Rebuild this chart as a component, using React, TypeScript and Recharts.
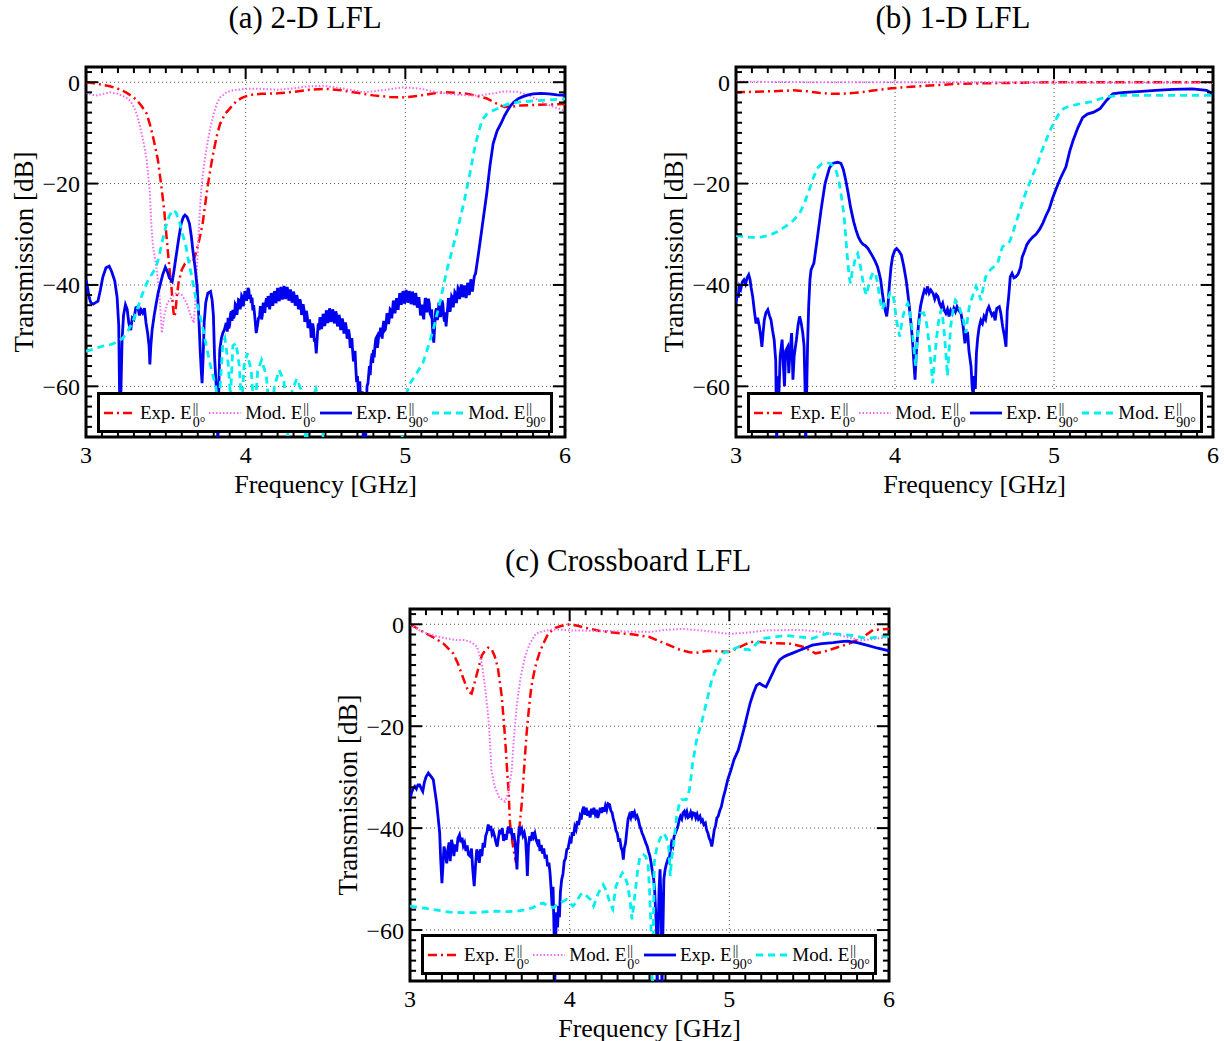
import React from "react";
import {
  LineChart,
  Line,
  XAxis,
  YAxis,
  ReferenceLine,
  ReferenceArea,
  Legend,
} from "recharts";

type Pt = [number, number];

const FONT = "'Liberation Serif', 'Times New Roman', serif";
const X_MAJOR = [3, 4, 5, 6];
const Y_MAJOR = [0, -20, -40, -60];
const X_GRID = [4, 5];
const X_MINOR = Array.from({ length: 31 }, (_, i) => Math.round((3 + i * 0.1) * 10) / 10);
const Y_MINOR = Array.from({ length: 37 }, (_, i) => -70 + i * 2);

// (a) 2-D LFL
const A_EXP0: Pt[] = [
  [3.0, 0], [3.05, -0.2], [3.1, -0.5], [3.15, -0.8], [3.2, -1.3], [3.25, -2], [3.29, -2.8],
  [3.32, -3.6], [3.35, -4.8], [3.38, -6.2], [3.4, -8.3], [3.42, -10.8], [3.435, -13], [3.45, -15.3],
  [3.47, -20], [3.49, -25.3], [3.51, -32.5], [3.525, -37.5], [3.535, -40.4], [3.545, -44.5],
  [3.552, -46.3], [3.56, -45.5], [3.568, -42.5], [3.58, -39.5], [3.6, -37], [3.62, -35.8],
  [3.645, -35.3], [3.67, -35.5], [3.69, -33.5], [3.71, -31], [3.73, -28], [3.745, -24.5],
  [3.76, -21], [3.78, -17], [3.8, -13.5], [3.82, -10.5], [3.84, -8.2], [3.87, -6.3], [3.9, -5.2],
  [3.94, -3.8], [3.97, -3.2], [4.0, -2.8], [4.05, -2.4], [4.1, -2.3], [4.2, -2.2], [4.3, -1.9],
  [4.4, -1.5], [4.5, -1.3], [4.6, -1.6], [4.7, -2.1], [4.8, -2.6], [4.9, -2.9], [5.0, -3],
  [5.1, -2.6], [5.2, -2.1], [5.26, -2], [5.33, -2.1], [5.39, -2.3], [5.45, -2.7], [5.51, -3.2],
  [5.57, -4.2], [5.62, -4.9], [5.67, -4.8], [5.72, -4.6], [5.8, -4.5], [5.9, -4.4], [6.0, -4.3],
];
const A_MOD0: Pt[] = [
  [3.0, -2], [3.04, -2.5], [3.07, -2.6], [3.11, -2.3], [3.15, -2], [3.2, -2.3], [3.25, -3],
  [3.28, -3.8], [3.3, -4.9], [3.32, -6.5], [3.34, -8.9], [3.36, -11.8], [3.38, -15.3], [3.4, -21.9],
  [3.41, -28.5], [3.42, -32.5], [3.44, -36.4], [3.46, -41.7], [3.475, -49.5], [3.49, -46],
  [3.51, -43.5], [3.54, -42.3], [3.57, -41.5], [3.6, -42], [3.63, -43.5], [3.655, -46],
  [3.675, -47.5], [3.69, -41], [3.7, -33], [3.71, -27], [3.72, -22], [3.73, -18.7], [3.745, -15],
  [3.76, -12.1], [3.78, -8.8], [3.8, -6.2], [3.82, -4.2], [3.84, -3], [3.88, -2], [3.92, -1.6],
  [4.0, -1.3], [4.1, -1.3], [4.2, -1.5], [4.3, -1.2], [4.4, -0.8], [4.49, -0.7], [4.6, -1.2],
  [4.74, -2], [4.85, -1.6], [4.99, -1], [5.1, -1.3], [5.2, -2], [5.3, -2.4], [5.4, -2.6],
  [5.47, -2.6], [5.55, -2.2], [5.62, -1.8], [5.7, -1.9], [5.76, -2.4], [5.8, -3], [5.86, -4],
  [5.93, -4.9], [6.0, -5.6],
];
const A_EXP90: Pt[] = [
  [3.0, -39], [3.01, -40.5], [3.02, -42.5], [3.03, -43.5], [3.045, -43.8], [3.06, -43.5],
  [3.075, -43.2], [3.09, -41], [3.105, -38.5], [3.125, -36.6], [3.145, -36.3], [3.16, -37.3],
  [3.18, -39.2], [3.195, -42.5], [3.205, -48], [3.212, -66], [3.218, -62], [3.226, -50.8],
  [3.235, -46], [3.247, -43.9], [3.258, -44.8], [3.268, -47.5], [3.28, -48.9], [3.29, -46.5],
  [3.3, -46.8], [3.312, -44.5], [3.324, -44.3], [3.335, -46], [3.345, -44.9], [3.355, -45.5],
  [3.366, -44.6], [3.376, -47.5], [3.386, -49.5], [3.395, -52], [3.4, -55.7], [3.406, -52],
  [3.414, -48.9], [3.427, -46], [3.44, -43.6], [3.452, -41.5], [3.462, -40.3], [3.48, -38],
  [3.497, -36.5], [3.51, -37.4], [3.522, -38.6], [3.54, -39.3], [3.552, -37], [3.564, -34.4],
  [3.58, -31], [3.596, -27.9], [3.61, -26.6], [3.62, -26.2], [3.633, -26.6], [3.648, -27.9],
  [3.66, -30.5], [3.669, -33.1], [3.683, -36.5], [3.696, -40.3], [3.706, -46], [3.715, -52.8],
  [3.722, -57], [3.727, -59.4], [3.734, -54], [3.74, -47.5], [3.75, -43.5], [3.763, -41.6],
  [3.78, -41.3], [3.79, -43], [3.798, -46], [3.805, -54.1], [3.812, -58], [3.82, -62],
  [3.826, -72], [3.832, -60], [3.838, -52.8], [3.848, -50.5], [3.857, -49.5], [3.868, -48.7],
  [3.878, -47.5], [3.885, -49.2], [3.89, -46.5], [3.895, -48.6], [3.9, -47.8], [3.905, -45.8],
  [3.91, -45.2], [3.915, -47.1], [3.92, -44.9], [3.925, -46.6], [3.93, -45.9], [3.935, -43.8],
  [3.94, -44.1], [3.945, -45.9], [3.95, -44.6], [3.955, -42.9], [3.96, -43], [3.965, -44.8],
  [3.97, -43.9], [3.975, -42.1], [3.98, -42.4], [3.985, -44.2], [3.99, -42.9], [3.995, -41.2],
  [4.0, -41.6], [4.005, -43.1], [4.01, -42.2], [4.015, -40.6], [4.02, -41], [4.025, -42.8],
  [4.03, -41.9], [4.035, -43.6], [4.04, -42.5], [4.045, -45], [4.05, -44], [4.058, -46.5],
  [4.066, -49.5], [4.074, -48], [4.08, -46.6], [4.087, -46.2], [4.092, -44.2], [4.096, -45],
  [4.1, -46.8], [4.105, -45.8], [4.11, -43.5], [4.115, -44.2], [4.12, -45.5], [4.125, -43.6],
  [4.13, -42.6], [4.135, -44.4], [4.14, -42.2], [4.145, -43], [4.15, -44.8], [4.155, -43.5],
  [4.16, -41.6], [4.165, -42.3], [4.17, -44.1], [4.175, -43], [4.18, -41.2], [4.185, -41.8],
  [4.19, -43.6], [4.195, -42.5], [4.2, -40.6], [4.205, -41.4], [4.21, -43.2], [4.215, -42.2],
  [4.22, -40.4], [4.225, -41.2], [4.23, -42.9], [4.235, -41.9], [4.24, -40.2], [4.245, -41],
  [4.25, -42.8], [4.255, -41.8], [4.26, -40.4], [4.265, -41.3], [4.27, -43.1], [4.275, -42.3],
  [4.28, -40.9], [4.285, -41.7], [4.29, -43.5], [4.296, -42.6], [4.3, -41.3], [4.306, -42.4],
  [4.31, -44.1], [4.316, -43.4], [4.32, -42], [4.326, -43], [4.33, -44.8], [4.336, -44.3],
  [4.34, -42.8], [4.346, -43.8], [4.35, -45.9], [4.356, -45.2], [4.36, -43.8], [4.366, -45],
  [4.37, -47.3], [4.376, -46.6], [4.38, -45.1], [4.386, -46.2], [4.39, -48.5], [4.396, -47.8],
  [4.4, -46.8], [4.406, -48.2], [4.41, -50.4], [4.415, -49.8], [4.42, -47.6], [4.425, -48.6],
  [4.43, -51.2], [4.435, -50.5], [4.442, -53.5], [4.45, -49.5], [4.455, -47.6], [4.46, -48.9],
  [4.465, -46.4], [4.47, -47.2], [4.475, -48.7], [4.48, -47.8], [4.485, -45.7], [4.49, -46.5],
  [4.495, -48.1], [4.5, -47.2], [4.505, -45], [4.51, -45.8], [4.515, -47.5], [4.52, -46.6],
  [4.525, -44.6], [4.53, -45.4], [4.535, -47.3], [4.54, -46.4], [4.545, -44.8], [4.55, -45.6],
  [4.555, -47.6], [4.56, -46.8], [4.565, -45.2], [4.57, -46], [4.575, -48.2], [4.58, -47.4],
  [4.585, -45.9], [4.59, -46.8], [4.595, -48.9], [4.6, -48], [4.605, -46.6], [4.61, -47.5],
  [4.615, -49.6], [4.62, -48.8], [4.625, -47.4], [4.63, -48.4], [4.635, -50.6], [4.64, -49.9],
  [4.645, -48.8], [4.65, -50], [4.655, -52.4], [4.66, -52], [4.665, -50.5], [4.67, -53],
  [4.675, -55.1], [4.68, -54.5], [4.685, -53], [4.69, -56.5], [4.695, -59.2], [4.7, -58],
  [4.708, -62], [4.715, -59], [4.722, -66], [4.73, -61], [4.738, -72], [4.745, -63], [4.752, -70],
  [4.76, -60], [4.766, -59.4], [4.775, -56], [4.78, -57.8], [4.785, -55], [4.792, -53.5],
  [4.796, -55.4], [4.8, -52.8], [4.805, -54.3], [4.81, -52], [4.815, -50.6], [4.82, -50.3],
  [4.825, -52.4], [4.83, -51.2], [4.835, -49.2], [4.84, -50.2], [4.845, -48.4], [4.85, -49.2],
  [4.855, -50.6], [4.86, -48.3], [4.865, -47.1], [4.87, -49], [4.875, -48.8], [4.88, -47.5],
  [4.885, -45.6], [4.89, -46], [4.895, -47.7], [4.9, -46.5], [4.905, -44.8], [4.91, -45],
  [4.915, -46.6], [4.92, -44.9], [4.925, -43.1], [4.93, -43.8], [4.935, -45.6], [4.94, -44.3],
  [4.945, -42.6], [4.95, -43.2], [4.955, -44.9], [4.96, -43], [4.965, -41.6], [4.97, -42.1],
  [4.975, -43.9], [4.98, -42.8], [4.985, -41.2], [4.99, -42], [4.995, -43.7], [5.0, -42.5],
  [5.005, -41], [5.01, -41.8], [5.015, -43.5], [5.02, -42.7], [5.025, -41.2], [5.03, -42],
  [5.035, -43.8], [5.04, -42.9], [5.045, -41.3], [5.05, -42.2], [5.055, -44], [5.06, -43],
  [5.065, -41.6], [5.07, -42.6], [5.075, -44.5], [5.08, -43.8], [5.085, -42.4], [5.09, -44],
  [5.095, -46], [5.1, -45.2], [5.105, -43.9], [5.11, -45.6], [5.115, -46.8], [5.12, -44.3],
  [5.125, -42.6], [5.13, -43], [5.135, -45.4], [5.14, -44.5], [5.145, -42.7], [5.15, -43.6],
  [5.155, -45.6], [5.16, -46], [5.165, -44.8], [5.17, -48.5], [5.178, -51.4], [5.186, -47],
  [5.19, -45.2], [5.195, -44.6], [5.2, -46.9], [5.205, -46.2], [5.21, -43.5], [5.215, -44],
  [5.22, -46.3], [5.225, -45.5], [5.23, -43.1], [5.235, -43.8], [5.24, -46.1], [5.245, -47.2],
  [5.25, -45.4], [5.255, -48.2], [5.26, -46.3], [5.265, -44.5], [5.27, -42.6], [5.275, -43.2],
  [5.28, -45.3], [5.285, -44], [5.29, -42.2], [5.295, -42.5], [5.3, -44.4], [5.305, -43],
  [5.31, -41.4], [5.315, -41.7], [5.32, -43.6], [5.325, -42.2], [5.33, -40.6], [5.335, -40.9],
  [5.34, -42.8], [5.345, -41.5], [5.35, -39.9], [5.355, -40.6], [5.36, -42.4], [5.365, -41.6],
  [5.37, -40.1], [5.375, -40.8], [5.38, -42.6], [5.385, -41.7], [5.39, -39.6], [5.395, -40.2],
  [5.4, -42], [5.405, -40.9], [5.41, -38.9], [5.415, -39.6], [5.42, -41.3], [5.425, -40],
  [5.432, -38.3], [5.44, -37.7], [5.455, -34.5], [5.47, -31.1], [5.49, -26.5], [5.51, -21.9],
  [5.53, -16.5], [5.55, -12.1], [5.575, -9.6], [5.6, -8.1], [5.62, -6.7], [5.64, -5.6],
  [5.66, -4.6], [5.68, -3.9], [5.71, -3.2], [5.74, -2.8], [5.77, -2.5], [5.8, -2.3], [5.85, -2.2],
  [5.9, -2.3], [5.95, -2.5], [6.0, -2.6],
];
const A_MOD90: Pt[] = [
  [3.0, -53.1], [3.05, -52.6], [3.1, -52.1], [3.15, -51.8], [3.2, -51.2], [3.23, -50.5],
  [3.26, -49.2], [3.29, -47.5], [3.31, -45.8], [3.33, -43.9], [3.36, -41.2], [3.39, -39],
  [3.42, -37.5], [3.44, -36.4], [3.46, -34], [3.48, -31.1], [3.5, -28.5], [3.52, -26.5],
  [3.54, -25.4], [3.55, -25.2], [3.565, -25.8], [3.585, -27.5], [3.605, -30], [3.627, -32.5],
  [3.64, -35], [3.658, -37.7], [3.675, -40.5], [3.69, -43], [3.705, -45], [3.72, -46.9],
  [3.735, -49], [3.75, -51.5], [3.765, -53.8], [3.78, -56], [3.8, -58.5], [3.815, -60.5],
  [3.83, -66], [3.84, -60], [3.857, -51.5], [3.87, -50.5], [3.89, -55.4], [3.905, -62],
  [3.92, -52], [3.94, -51.5], [3.96, -56], [3.975, -64], [3.99, -56], [4.01, -53.5],
  [4.035, -57], [4.055, -66], [4.075, -57], [4.1, -54.8], [4.13, -58], [4.155, -68], [4.18, -60],
  [4.21, -56.8], [4.24, -59], [4.265, -70], [4.29, -61], [4.32, -58.5], [4.35, -61], [4.38, -72],
  [4.41, -63], [4.44, -60.5], [4.47, -64], [4.5, -76], [4.55, -80], [4.96, -80], [4.98, -70],
  [5.0, -62], [5.03, -59.4], [5.07, -57.5], [5.11, -55.4], [5.15, -51.5], [5.18, -48.2],
  [5.22, -43], [5.26, -37.1], [5.29, -33.5], [5.32, -29.9], [5.35, -26], [5.37, -23.3],
  [5.4, -18.7], [5.44, -12.1], [5.48, -7.5], [5.51, -6.3], [5.55, -5.6], [5.6, -4.9],
  [5.64, -4.3], [5.72, -3.9], [5.8, -3.7], [5.89, -3.5], [6.0, -3.3],
];

// (b) 1-D LFL
const B_EXP0: Pt[] = [
  [3.0, -2], [3.1, -1.9], [3.2, -1.8], [3.3, -1.7], [3.36, -1.6], [3.45, -1.8], [3.52, -2.1],
  [3.6, -2.3], [3.67, -2.3], [3.75, -2.1], [3.85, -1.7], [3.98, -1.2], [4.1, -0.9], [4.25, -0.6],
  [4.4, -0.3], [4.6, -0.2], [4.8, -0.1], [5.0, 0], [5.5, 0], [6.0, 0],
];
const B_MOD0: Pt[] = [
  [3.0, 0.1], [3.5, 0], [4.0, 0], [4.5, 0], [5.0, -0.1], [5.5, -0.1], [6.0, -0.1],
];
const B_EXP90: Pt[] = [
  [3.0, -43.6], [3.008, -41.5], [3.015, -42.5], [3.022, -40.3], [3.03, -40.8], [3.04, -39.4],
  [3.05, -39], [3.06, -39.8], [3.07, -38.6], [3.08, -38], [3.088, -38.9], [3.095, -40.5],
  [3.105, -42.3], [3.115, -45], [3.126, -47.6], [3.136, -46.5], [3.147, -48.2], [3.155, -50],
  [3.163, -52.2], [3.17, -49.5], [3.178, -46.9], [3.188, -45.5], [3.2, -44.9], [3.21, -46],
  [3.22, -46.9], [3.23, -49], [3.24, -50.8], [3.25, -55], [3.256, -72], [3.262, -58],
  [3.27, -61.4], [3.278, -54], [3.29, -50.8], [3.298, -56], [3.305, -60], [3.312, -53],
  [3.325, -52.2], [3.332, -57.4], [3.34, -53], [3.35, -49.5], [3.358, -58.7], [3.366, -54],
  [3.38, -50.8], [3.39, -48], [3.4, -46.2], [3.41, -47.5], [3.42, -49.5], [3.428, -52],
  [3.434, -60], [3.438, -72], [3.444, -62], [3.45, -52], [3.457, -44.3], [3.465, -39],
  [3.472, -37], [3.49, -35.7], [3.51, -31.1], [3.535, -25.2], [3.56, -20], [3.587, -17],
  [3.605, -16.1], [3.62, -15.9], [3.64, -15.8], [3.66, -16], [3.675, -17.2], [3.69, -19.3],
  [3.705, -21.8], [3.72, -24.6], [3.74, -27.5], [3.755, -29.2], [3.77, -30.6], [3.786, -31.5],
  [3.8, -32], [3.815, -32.3], [3.83, -32.8], [3.845, -33.6], [3.86, -34.4], [3.875, -35.3],
  [3.89, -36.4], [3.9, -37.6], [3.91, -39], [3.92, -41.5], [3.933, -44.3], [3.948, -46.2],
  [3.956, -44], [3.964, -40.3], [3.975, -36.5], [3.985, -34.4], [3.998, -33.2], [4.01, -32.8],
  [4.025, -33.3], [4.04, -34.1], [4.055, -36.3], [4.07, -39], [4.08, -41.5], [4.09, -44.3],
  [4.1, -47.5], [4.11, -50.8], [4.118, -55], [4.126, -58.7], [4.133, -54], [4.14, -50.8],
  [4.15, -47], [4.16, -44.3], [4.172, -42.5], [4.185, -41], [4.195, -41.5], [4.205, -40.3],
  [4.215, -41.6], [4.225, -41], [4.24, -41.7], [4.25, -42.8], [4.26, -41.9], [4.27, -42.3],
  [4.28, -43.6], [4.29, -44.3], [4.3, -43.6], [4.31, -45], [4.32, -45.6], [4.33, -44.8],
  [4.34, -46.2], [4.35, -45], [4.36, -45.6], [4.37, -44.6], [4.38, -45.3], [4.39, -44.3],
  [4.4, -45], [4.415, -45.6], [4.428, -48], [4.44, -51.5], [4.45, -49.5], [4.457, -49.5],
  [4.465, -53], [4.478, -56], [4.485, -60], [4.492, -62], [4.498, -58], [4.505, -60.5],
  [4.512, -53.5], [4.52, -50.5], [4.53, -48.2], [4.54, -47], [4.55, -47.6], [4.56, -46.2],
  [4.57, -46.8], [4.58, -45], [4.59, -44.3], [4.6, -45.2], [4.61, -46], [4.62, -45.6],
  [4.63, -47], [4.64, -44.6], [4.656, -44.3], [4.665, -45.5], [4.677, -48.2], [4.688, -50],
  [4.698, -52.2], [4.706, -45], [4.715, -42.3], [4.725, -38.4], [4.736, -37.7], [4.748, -38.6],
  [4.76, -38.4], [4.775, -37.8], [4.79, -36.5], [4.8, -34.5], [4.815, -33.3], [4.83, -32],
  [4.845, -31.3], [4.865, -30.6], [4.887, -30], [4.91, -29], [4.93, -27.8], [4.95, -26.3],
  [4.97, -25], [4.99, -23], [5.01, -21.3], [5.04, -19], [5.075, -16.7], [5.1, -13.5],
  [5.12, -11.5], [5.15, -9], [5.18, -7], [5.21, -6.3], [5.25, -5.9], [5.29, -5.2], [5.33, -3.6],
  [5.37, -2.3], [5.41, -2.1], [5.45, -2], [5.55, -1.8], [5.64, -1.6], [5.75, -1.4], [5.87, -1.3],
  [5.96, -1.6], [6.0, -2.3],
];
const B_MOD90: Pt[] = [
  [3.0, -30.2], [3.05, -30.5], [3.1, -30.6], [3.15, -30.6], [3.21, -30.2], [3.26, -29.5],
  [3.31, -28.5], [3.36, -27.3], [3.4, -25.9], [3.43, -23.9], [3.46, -21.3], [3.485, -19],
  [3.51, -17], [3.54, -16.1], [3.566, -15.9], [3.59, -16], [3.62, -16.7], [3.635, -18],
  [3.65, -20], [3.665, -23], [3.68, -26.5], [3.69, -30.5], [3.7, -34.4], [3.712, -38.5],
  [3.72, -39.7], [3.73, -37.5], [3.74, -36.4], [3.752, -34.5], [3.765, -33.8], [3.778, -35.5],
  [3.79, -37.7], [3.805, -40.5], [3.82, -42], [3.835, -40], [3.85, -38.4], [3.863, -37.5],
  [3.876, -37.7], [3.89, -39.5], [3.9, -41.7], [3.912, -44], [3.92, -44.9], [3.935, -43.5],
  [3.954, -42.9], [3.97, -41.5], [3.985, -41.7], [3.996, -43.5], [4.006, -46.2], [4.018, -48.5],
  [4.03, -50.2], [4.04, -48], [4.05, -46.2], [4.065, -44.5], [4.08, -43.6], [4.09, -44.5],
  [4.1, -46.9], [4.115, -51], [4.13, -56], [4.14, -50.5], [4.16, -45.6], [4.18, -45.5],
  [4.195, -46.9], [4.205, -49], [4.216, -52.1], [4.228, -56], [4.237, -59.4], [4.248, -55],
  [4.26, -50.8], [4.275, -47], [4.29, -44.9], [4.3, -46.5], [4.31, -49.5], [4.32, -53.5],
  [4.33, -58], [4.34, -53], [4.35, -48.2], [4.365, -45], [4.38, -43], [4.4, -43.8],
  [4.415, -45.5], [4.43, -46.9], [4.446, -49.5], [4.455, -47], [4.467, -44.3], [4.49, -42],
  [4.51, -40.3], [4.525, -41.5], [4.54, -43], [4.555, -40.5], [4.57, -38.4], [4.6, -37],
  [4.625, -36.3], [4.646, -35.7], [4.66, -34], [4.677, -32.4], [4.7, -32], [4.72, -31.5],
  [4.74, -29.8], [4.76, -27.8], [4.78, -25.8], [4.8, -23.9], [4.82, -22], [4.845, -20],
  [4.87, -18], [4.897, -16.1], [4.92, -13.8], [4.95, -11.5], [4.975, -9.5], [5.0, -8],
  [5.03, -6.3], [5.06, -5.2], [5.09, -4.8], [5.12, -4.6], [5.17, -4.2], [5.23, -3.9],
  [5.28, -3.4], [5.33, -2.9], [5.41, -2.6], [5.5, -2.6], [5.64, -2.6], [5.8, -2.6], [6.0, -2.6],
];

// (c) Crossboard LFL
const C_EXP0: Pt[] = [
  [3.0, 0], [3.05, -0.9], [3.1, -1.8], [3.16, -2.8], [3.21, -3.8], [3.27, -5.7], [3.3, -7.7],
  [3.33, -10.3], [3.365, -13.2], [3.386, -13.6], [3.4, -12], [3.42, -9.6], [3.45, -6.1],
  [3.47, -5.2], [3.49, -4.6], [3.51, -4.8], [3.53, -6.2], [3.55, -8.5], [3.574, -14], [3.59, -20],
  [3.6, -24.5], [3.61, -29.5], [3.618, -33], [3.626, -39], [3.64, -42.5], [3.65, -44.5],
  [3.664, -46.8], [3.672, -44.5], [3.68, -41.6], [3.69, -38.5], [3.7, -35.1], [3.71, -30.5],
  [3.72, -25.9], [3.73, -21.5], [3.74, -18.1], [3.75, -15], [3.76, -12.3], [3.775, -9.8],
  [3.79, -7.7], [3.81, -5.7], [3.835, -3.8], [3.86, -2.2], [3.877, -1.5], [3.91, -0.7],
  [3.95, -0.3], [4.0, 0], [4.05, -0.3], [4.1, -0.7], [4.19, -1.3], [4.3, -1.7], [4.4, -2],
  [4.5, -2.5], [4.6, -3.8], [4.69, -5], [4.75, -5.5], [4.79, -5.6], [4.87, -5.2], [4.94, -5.3],
  [5.0, -5.4], [5.07, -4.4], [5.13, -3.5], [5.2, -3.5], [5.27, -3.7], [5.38, -3.8], [5.46, -4.4],
  [5.54, -5.7], [5.6, -5.3], [5.65, -4.8], [5.75, -3.8], [5.84, -2.5], [5.9, -1.1], [6.0, -0.9],
];
const C_MOD0: Pt[] = [
  [3.0, 0], [3.06, -1.2], [3.125, -2], [3.2, -2.6], [3.29, -3.1], [3.34, -3.1], [3.375, -3.4],
  [3.4, -3.9], [3.42, -4.4], [3.45, -7.7], [3.47, -12.3], [3.49, -18.1], [3.5, -22.7],
  [3.51, -28.6], [3.53, -31.8], [3.56, -34.1], [3.595, -34.8], [3.616, -33.1], [3.637, -28.6],
  [3.65, -22.7], [3.67, -15.5], [3.69, -10.9], [3.72, -6.4], [3.75, -3.8], [3.79, -1.8],
  [3.85, -1.2], [3.92, -1], [4.0, -1.2], [4.2, -1.3], [4.35, -1.4], [4.5, -1.5], [4.6, -1.1],
  [4.71, -0.9], [4.85, -1.3], [5.0, -1.9], [5.12, -1.6], [5.23, -1.2], [5.44, -1.1],
  [5.55, -1.4], [5.65, -1.9], [5.75, -2.6], [5.82, -3.2], [5.9, -2.9], [6.0, -2.5],
];
const C_EXP90: Pt[] = [
  [3.0, -34.4], [3.01, -33], [3.02, -32.2], [3.03, -31.8], [3.04, -32.3], [3.05, -31.5],
  [3.06, -31.5], [3.07, -32.2], [3.08, -32.8], [3.09, -31], [3.1, -30], [3.115, -29.2],
  [3.125, -29.6], [3.135, -30], [3.146, -30.5], [3.155, -32.5], [3.167, -35.1], [3.178, -38.5],
  [3.186, -41], [3.192, -46], [3.2, -50.8], [3.207, -47], [3.213, -43.6], [3.222, -45],
  [3.23, -46.9], [3.238, -44], [3.245, -42.8], [3.252, -46.5], [3.26, -42.3], [3.268, -43.5],
  [3.275, -45.5], [3.283, -43.2], [3.292, -44.6], [3.3, -42], [3.31, -41.3], [3.318, -42.8],
  [3.326, -41.9], [3.334, -43.5], [3.342, -42.9], [3.35, -44.5], [3.358, -43.4], [3.366, -45.2],
  [3.376, -45.5], [3.385, -44], [3.393, -48.1], [3.402, -51.4], [3.41, -47.5], [3.418, -44.2],
  [3.426, -45], [3.434, -46.8], [3.442, -44.1], [3.45, -45.5], [3.458, -42.9], [3.466, -43.8],
  [3.474, -41.5], [3.482, -40.8], [3.49, -39.3], [3.498, -40.5], [3.506, -39.6], [3.514, -41.2],
  [3.522, -40.7], [3.53, -41.6], [3.538, -42.8], [3.546, -43.6], [3.554, -41.9], [3.562, -40.3],
  [3.57, -41.2], [3.578, -40], [3.586, -42.5], [3.594, -41.2], [3.602, -42.3], [3.61, -40.6],
  [3.618, -39.7], [3.626, -41], [3.634, -40], [3.642, -42.2], [3.65, -41], [3.658, -42.9],
  [3.664, -45.5], [3.67, -48.1], [3.676, -43], [3.684, -39.7], [3.692, -40.8], [3.7, -40.2],
  [3.708, -41.5], [3.716, -40.9], [3.724, -42.2], [3.73, -45.5], [3.735, -49.4], [3.742, -43.5],
  [3.75, -41.6], [3.758, -42.5], [3.766, -40.8], [3.774, -41.7], [3.782, -41], [3.79, -42.3],
  [3.798, -43], [3.806, -42.2], [3.814, -44.5], [3.822, -43.3], [3.83, -45], [3.838, -44],
  [3.846, -46], [3.854, -45.2], [3.862, -47.5], [3.87, -46.8], [3.877, -48.8], [3.884, -52],
  [3.89, -55.3], [3.896, -51.5], [3.902, -60], [3.906, -72], [3.912, -62], [3.918, -56.5],
  [3.924, -59.5], [3.93, -55.3], [3.936, -57.5], [3.942, -52.5], [3.95, -50.1], [3.958, -49],
  [3.966, -46.5], [3.974, -46], [3.982, -44.2], [3.99, -44], [4.0, -42.3], [4.008, -43],
  [4.016, -40.8], [4.024, -41.5], [4.032, -39.7], [4.04, -40.3], [4.048, -38.6], [4.056, -39.4],
  [4.065, -37.7], [4.072, -38.3], [4.08, -36.5], [4.088, -35.8], [4.096, -37.4], [4.104, -36],
  [4.112, -37.6], [4.12, -36.6], [4.128, -37.9], [4.136, -36.2], [4.144, -37.3], [4.152, -36],
  [4.16, -37.2], [4.168, -36.4], [4.176, -38], [4.184, -37.1], [4.192, -36], [4.2, -37],
  [4.208, -35.9], [4.216, -36.8], [4.224, -35.6], [4.232, -36.4], [4.24, -35.2], [4.25, -35.4],
  [4.258, -36.6], [4.266, -37], [4.274, -38.3], [4.282, -39.1], [4.29, -40.5], [4.298, -41],
  [4.306, -42.4], [4.315, -42.3], [4.322, -43.8], [4.33, -44.5], [4.336, -46.2], [4.342, -44],
  [4.35, -42.9], [4.358, -40.5], [4.366, -38.2], [4.374, -37.4], [4.382, -38], [4.39, -36.7],
  [4.398, -37.5], [4.406, -36.9], [4.414, -38], [4.422, -37.6], [4.43, -38.3], [4.438, -39.5],
  [4.446, -40.2], [4.454, -41], [4.462, -41.6], [4.47, -42.3], [4.478, -43], [4.486, -43.6],
  [4.494, -44.6], [4.502, -45.4], [4.51, -46.8], [4.518, -48.5], [4.526, -50], [4.532, -52],
  [4.538, -56], [4.544, -60], [4.548, -72], [4.554, -60], [4.56, -52], [4.566, -48.1],
  [4.572, -54], [4.578, -72], [4.584, -60.5], [4.59, -50], [4.598, -48.1], [4.606, -47],
  [4.614, -46.2], [4.622, -46.6], [4.63, -44.5], [4.638, -42.9], [4.646, -43.5], [4.654, -41.6],
  [4.662, -41], [4.67, -40.3], [4.678, -39.6], [4.686, -38.4], [4.694, -37.7], [4.702, -38.2],
  [4.71, -37], [4.718, -36.7], [4.726, -37.6], [4.734, -36.8], [4.742, -37.9], [4.75, -37.7],
  [4.758, -36.9], [4.766, -37.8], [4.774, -37], [4.782, -37.1], [4.79, -38], [4.798, -37.3],
  [4.806, -38.2], [4.816, -37.7], [4.824, -38.7], [4.832, -38.4], [4.84, -39.3], [4.85, -39],
  [4.858, -40.4], [4.866, -41], [4.874, -42], [4.882, -42.5], [4.89, -43.6], [4.898, -42],
  [4.906, -40.3], [4.914, -39.5], [4.922, -38], [4.93, -37.7], [4.94, -36.6], [4.95, -35.8],
  [4.962, -34], [4.975, -32.5], [4.99, -30.5], [5.01, -28.6], [5.03, -26.5], [5.056, -24.7],
  [5.075, -22.5], [5.09, -20.7], [5.11, -18.1], [5.13, -15.5], [5.15, -13.6], [5.17, -12],
  [5.19, -11.6], [5.21, -12], [5.23, -12.3], [5.25, -11], [5.27, -9.7], [5.29, -8.3],
  [5.315, -7], [5.34, -6.4], [5.36, -6.1], [5.4, -5.6], [5.44, -5.1], [5.48, -4.6], [5.52, -4.1],
  [5.58, -3.8], [5.65, -3.6], [5.7, -3.4], [5.74, -3.3], [5.8, -3.6], [5.86, -4.1], [5.93, -4.7],
  [6.0, -5.2],
];
const C_MOD90: Pt[] = [
  [3.0, -55.3], [3.06, -55.6], [3.125, -55.9], [3.19, -56.2], [3.25, -56.5], [3.33, -56.6],
  [3.42, -56.6], [3.48, -56.4], [3.54, -56.3], [3.6, -56.4], [3.67, -56.3], [3.72, -56],
  [3.77, -55.6], [3.8, -55], [3.835, -54.7], [3.865, -55.3], [3.9, -55.6], [3.92, -55],
  [3.94, -54.7], [3.98, -54], [4.0, -54.6], [4.02, -55.3], [4.035, -54.8], [4.05, -54],
  [4.07, -53], [4.085, -52.7], [4.11, -53.4], [4.13, -54], [4.15, -55.3], [4.165, -54],
  [4.18, -52.7], [4.21, -51.1], [4.225, -52], [4.24, -53.4], [4.255, -55], [4.27, -55.9],
  [4.28, -53.5], [4.29, -51.4], [4.31, -50], [4.33, -48.8], [4.345, -49.5], [4.36, -50.8],
  [4.37, -52.5], [4.38, -54.7], [4.39, -57.9], [4.4, -55.5], [4.41, -52.7], [4.425, -48.5],
  [4.44, -45.5], [4.46, -45.2], [4.475, -45.5], [4.49, -46.8], [4.5, -52], [4.51, -60],
  [4.518, -72], [4.525, -58], [4.53, -46.8], [4.545, -44], [4.555, -42.9], [4.575, -41.5],
  [4.59, -41], [4.605, -41.8], [4.62, -43.6], [4.63, -49.4], [4.64, -45.5], [4.65, -43.6],
  [4.66, -40.5], [4.67, -37.7], [4.685, -35.5], [4.7, -34.4], [4.73, -34.4], [4.75, -32.5],
  [4.76, -30], [4.77, -27.3], [4.795, -22.7], [4.83, -18.8], [4.86, -14.9], [4.89, -10.9],
  [4.93, -7.7], [4.97, -5.4], [5.0, -5.5], [5.03, -4.8], [5.06, -4.4], [5.09, -4.9], [5.13, -5],
  [5.17, -3.8], [5.21, -2.8], [5.3, -2.4], [5.36, -2.2], [5.45, -2.5], [5.52, -2.8], [5.57, -2.2],
  [5.62, -1.8], [5.7, -2], [5.77, -2.2], [5.86, -2.8], [5.93, -2.5], [6.0, -2.2],
];

const STYLES = [
  { name: "Exp.", sub: "0°", color: "#ff0000", dash: "9 4 2 4", width: 2.5 },
  { name: "Mod.", sub: "0°", color: "#f26af2", dash: "1.5 2", width: 2 },
  { name: "Exp.", sub: "90°", color: "#0000f0", dash: undefined, width: 2.8 },
  { name: "Mod.", sub: "90°", color: "#00f0f0", dash: "7 5", width: 2.8 },
];

// tick lengths in data units (about 6 px on the plot)
const TICK_DX = 0.038;
const TICK_DY = 1.2;

const toRows = (pts: Pt[]) => pts.map(([f, v]) => ({ f, v }));

function LegendBox() {
  return (
    <div
      style={{
        width: 456,
        height: 41,
        boxSizing: "border-box",
        border: "3px solid #000",
        background: "#fff",
        display: "flex",
        alignItems: "center",
        justifyContent: "space-around",
        fontFamily: FONT,
        fontSize: 19,
        color: "#000",
        padding: "0 2px",
      }}
    >
      {STYLES.map((s, i) => (
        <span key={i} style={{ display: "inline-flex", alignItems: "center", whiteSpace: "nowrap" }}>
          <svg width={32} height={10} style={{ marginRight: 4 }}>
            <line x1={0} y1={5} x2={32} y2={5} stroke={s.color} strokeWidth={s.width} strokeDasharray={s.dash} />
          </svg>
          <span style={{ lineHeight: "20px" }}>{s.name} E</span>
          <span
            style={{
              display: "inline-flex",
              flexDirection: "column",
              marginLeft: 1,
              position: "relative",
              top: 3,
            }}
          >
            <span style={{ fontSize: 14, lineHeight: "14px", height: 14 }}>||</span>
            <span style={{ fontSize: 14, lineHeight: "14px", height: 14 }}>{s.sub}</span>
          </span>
        </span>
      ))}
    </div>
  );
}

type PanelProps = {
  plotLeft: number;
  plotTop: number;
  plotW: number;
  plotH: number;
  series: Pt[][];
};

function Panel({ plotLeft, plotTop, plotW, plotH, series }: PanelProps) {
  const W = 90 + plotW + 10;
  const H = 10 + plotH + 70;
  const tickStyle = { fill: "#000", fontSize: 24, fontFamily: FONT };
  const tk = { stroke: "#000", strokeWidth: 2, ifOverflow: "visible" as const };
  return (
    <div style={{ position: "absolute", left: plotLeft - 90, top: plotTop - 10 }}>
      <LineChart width={W} height={H} margin={{ top: 10, right: 10, bottom: 0, left: 0 }}>
        <XAxis
          dataKey="f"
          type="number"
          domain={[3, 6]}
          allowDataOverflow
          ticks={X_MAJOR}
          interval={0}
          tick={tickStyle}
          tickLine={false}
          tickSize={0}
          tickMargin={9}
          axisLine={false}
          height={70}
          label={{ value: "Frequency [GHz]", position: "insideBottom", offset: 14, fill: "#000", fontSize: 26, fontFamily: FONT }}
        />
        <YAxis
          type="number"
          domain={[-70, 3]}
          allowDataOverflow
          ticks={Y_MAJOR}
          interval={0}
          tickFormatter={(v: number) => (v < 0 ? "\u2212" + Math.abs(v) : "0")}
          tick={tickStyle}
          tickLine={false}
          tickSize={0}
          tickMargin={6}
          axisLine={false}
          width={90}
          label={{
            value: "Transmission [dB]",
            angle: -90,
            position: "insideLeft",
            offset: 27,
            fill: "#000",
            fontSize: 27,
            fontFamily: FONT,
            style: { textAnchor: "middle" },
          }}
        />
        {X_GRID.map((x) => (
          <ReferenceLine key={"gx" + x} x={x} stroke="#555" strokeDasharray="1 3" />
        ))}
        {Y_MAJOR.map((y) => (
          <ReferenceLine key={"gy" + y} y={y} stroke="#555" strokeDasharray="1 3" />
        ))}
        {series.map((pts, i) => (
          <Line
            key={i}
            data={toRows(pts)}
            dataKey="v"
            type="linear"
            stroke={STYLES[i].color}
            strokeWidth={STYLES[i].width}
            strokeDasharray={STYLES[i].dash}
            dot={false}
            activeDot={false}
            isAnimationActive={false}
          />
        ))}
        {X_MINOR.map((x) => {
          const k = X_GRID.includes(x) ? 2 : 1;
          return [
            <ReferenceLine key={"tb" + x} {...tk} segment={[{ x, y: -70 }, { x, y: -70 + k * TICK_DY }]} />,
            <ReferenceLine key={"tt" + x} {...tk} segment={[{ x, y: 3 }, { x, y: 3 - k * TICK_DY }]} />,
          ];
        })}
        {Y_MINOR.map((y) => {
          const k = Y_MAJOR.includes(y) ? 2 : 1;
          return [
            <ReferenceLine key={"tl" + y} {...tk} segment={[{ x: 3, y }, { x: 3 + k * TICK_DX, y }]} />,
            <ReferenceLine key={"tr" + y} {...tk} segment={[{ x: 6, y }, { x: 6 - k * TICK_DX, y }]} />,
          ];
        })}
        <ReferenceArea x1={3} x2={6} y1={-70} y2={3} fill="none" stroke="#000" strokeWidth={3} />
        <Legend
          layout="horizontal"
          verticalAlign="middle"
          align="center"
          wrapperStyle={{ left: 101, top: 335, width: 456 }}
          content={() => <LegendBox />}
        />
      </LineChart>
    </div>
  );
}

function Title({ cx, cy, text }: { cx: number; cy: number; text: string }) {
  return (
    <div
      style={{
        position: "absolute",
        left: cx - 200,
        top: cy - 17,
        width: 400,
        textAlign: "center",
        fontFamily: FONT,
        fontSize: 31,
        lineHeight: "34px",
        color: "#000",
      }}
    >
      {text}
    </div>
  );
}

export default function App() {
  return (
    <div style={{ position: "absolute", left: 0, top: 0, width: 1224, height: 1041, background: "#fff" }}>
      <Title cx={305} cy={18} text="(a) 2-D LFL" />
      <Title cx={953} cy={18} text="(b) 1-D LFL" />
      <Title cx={628} cy={561} text="(c) Crossboard LFL" />
      <Panel plotLeft={86} plotTop={67} plotW={479} plotH={370} series={[A_EXP0, A_MOD0, A_EXP90, A_MOD90]} />
      <Panel plotLeft={736} plotTop={67} plotW={477} plotH={370} series={[B_EXP0, B_MOD0, B_EXP90, B_MOD90]} />
      <Panel plotLeft={410} plotTop={609} plotW={479} plotH={372} series={[C_EXP0, C_MOD0, C_EXP90, C_MOD90]} />
    </div>
  );
}
